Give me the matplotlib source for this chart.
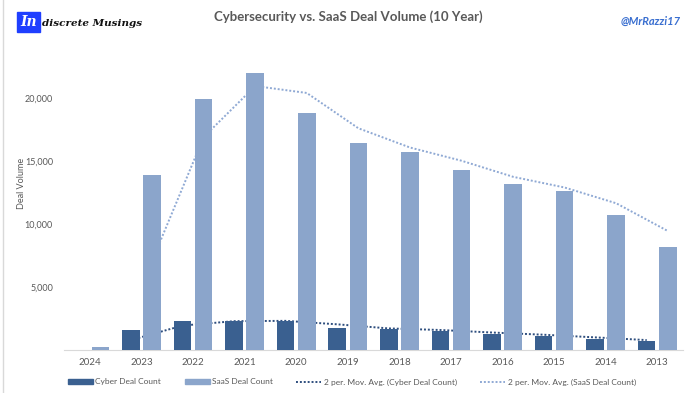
import matplotlib.pyplot as plt
import matplotlib.patches as mpatches
from matplotlib.lines import Line2D
import numpy as np
import pandas as pd

years = ['2024', '2023', '2022', '2021', '2020', '2019', '2018', '2017', '2016', '2015', '2014', '2013']
cyber_deals = [0, 1600, 2300, 2300, 2350, 1750, 1700, 1500, 1300, 1150, 880, 720]
saas_deals = [250, 13900, 19900, 22000, 18800, 16400, 15750, 14300, 13200, 12600, 10700, 8200]
y_ticks = [5000, 10000, 15000, 20000]

cyber_col = '#3A6090'
saas_col = '#8BA5CB'
text_col = '#595959'

plt.rcParams['font.family'] = ['Lato', 'DejaVu Sans']

# excel style 2 period moving average trendlines
cyber_ma = pd.Series(cyber_deals).rolling(2).mean()
saas_ma = pd.Series(saas_deals).rolling(2).mean()

fig = plt.figure(figsize=(6.97, 3.93), dpi=100, facecolor='white')
ax = fig.add_axes([0.092, 0.109, 0.888, 0.802])

x = np.arange(len(years))
w = 0.34
off = 0.205
ax.bar(x - off, cyber_deals, w, color=cyber_col, zorder=3)
ax.bar(x + off, saas_deals, w, color=saas_col, zorder=3)
ax.plot(x - off, cyber_ma, color='#2E4E7E', lw=1.4, ls=(0, (1, 1)), zorder=2)
ax.plot(x + off, saas_ma, color='#8FA9D4', lw=1.4, ls=(0, (1, 1)), zorder=2)

ax.set_xlim(-0.5, len(years) - 0.5)
ax.set_ylim(0, 25000)
ax.set_xticks(x)
ax.set_xticklabels(years)
ax.set_yticks(y_ticks)
ax.set_yticklabels(['{:,}'.format(v) for v in y_ticks])
ax.tick_params(length=0, labelsize=6.5, labelcolor=text_col, pad=8)
ax.tick_params(axis='x', labelsize=7, pad=6)
for s in ['top', 'right', 'left']:
    ax.spines[s].set_visible(False)
ax.spines['bottom'].set_color('#D9D9D9')
ax.set_ylabel('Deal Volume', fontsize=6.5, color=text_col)
ax.yaxis.set_label_coords(-0.062, 0.53)

fig.text(0.5, 0.958, 'Cybersecurity vs. SaaS Deal Volume (10 Year)', ha='center', va='center',
         fontsize=9.5, fontweight='bold', color=text_col)

# logo, top left
fig.patches.append(mpatches.Rectangle((17 / 697, 1 - 32 / 393), 23 / 697, 20 / 393,
                                      transform=fig.transFigure, color='#1F3FFF'))
fig.text(28.5 / 697, 1 - 22 / 393, 'In', ha='center', va='center', color='white',
         fontsize=10, fontweight='bold', style='italic', family='DejaVu Serif')
fig.text(42 / 697, 1 - 23 / 393, 'discrete Musings', ha='left', va='center', color='#111111',
         fontsize=7.5, fontweight='bold', style='italic', family='DejaVu Serif')
fig.text(681 / 697, 1 - 21 / 393, '@MrRazzi17', ha='right', va='center', color='#3A6FD0',
         fontsize=8, style='italic', fontweight='bold')

# left frame edge
fig.add_artist(Line2D([3 / 697, 3 / 697], [0, 1], color='#D9D9D9', lw=1, transform=fig.transFigure))

handles = [mpatches.Patch(color=cyber_col), mpatches.Patch(color=saas_col),
           Line2D([], [], color='#2E4E7E', lw=1.4, ls=(0, (1, 1))),
           Line2D([], [], color='#8FA9D4', lw=1.4, ls=(0, (1, 1)))]
labels = ['Cyber Deal Count', 'SaaS Deal Count', '2 per. Mov. Avg. (Cyber Deal Count)',
          '2 per. Mov. Avg. (SaaS Deal Count)']
leg = fig.legend(handles, labels, loc='center', bbox_to_anchor=(0.505, 0.028), ncol=4, frameon=False,
                 fontsize=6, handlelength=3.0, handleheight=0.5, columnspacing=2.8, handletextpad=0.3)
for t in leg.get_texts():
    t.set_color(text_col)

fig.savefig('out.png', dpi=100, facecolor='white')
